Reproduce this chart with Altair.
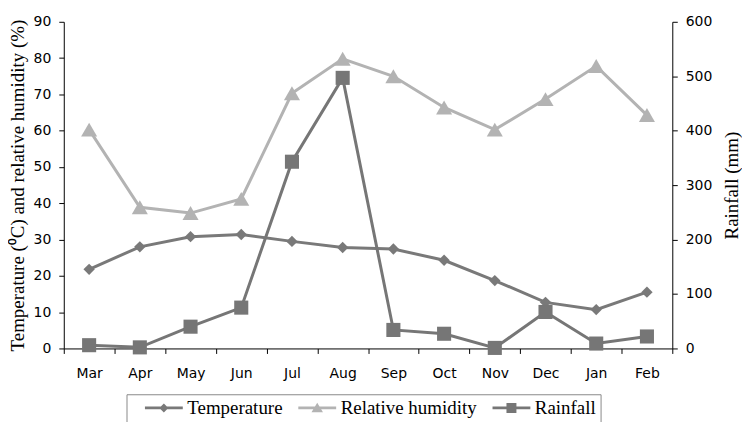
import altair as alt
import pandas as pd

months = ["Mar", "Apr", "May", "Jun", "Jul", "Aug", "Sep", "Oct", "Nov", "Dec", "Jan", "Feb"]
temperature = [21.8, 28.0, 30.8, 31.4, 29.5, 27.8, 27.4, 24.3, 18.7, 12.7, 10.7, 15.5]
humidity = [60.3, 38.9, 37.3, 41.2, 70.3, 79.8, 75.0, 66.4, 60.3, 68.7, 77.8, 64.3]
rainfall = [6, 2, 40, 75, 343, 497, 34, 27, 1, 67, 9, 22]

series_names = ["Temperature", "Relative humidity", "Rainfall"]
series_colors = ["#797979", "#b3b3b3", "#767676"]
# legend symbols (unit = 5 px): a short line with the series marker in its middle
legend_paths = [
    "M-3.8,-0.28L3.8,-0.28L3.8,0.28L-3.8,0.28Z M0,-0.9L0.9,0L0,0.9L-0.9,0Z",
    "M-3.8,-0.28L3.8,-0.28L3.8,0.28L-3.8,0.28Z M0,-1.05L1.15,0.85L-1.15,0.85Z",
    "M-3.8,-0.28L3.8,-0.28L3.8,0.28L-3.8,0.28Z M-1,-1L1,-1L1,1L-1,1Z",
]

df = pd.DataFrame({
    "month": months,
    "Temperature": temperature,
    "Relative humidity": humidity,
    "Rainfall": rainfall,
})
legend_df = pd.DataFrame({"series": series_names})

x_enc = alt.X(
    "month:N",
    sort=months,
    scale=alt.Scale(type="band", paddingInner=0, paddingOuter=0),
    axis=alt.Axis(title=None, tickBand="extent", labelPadding=13, labelAngle=0),
)

left_scale = alt.Scale(domain=[0, 90])
left_title = "Temperature (\u2070C) and relative humidity (%)"


def left_axis():
    return alt.Axis(
        values=list(range(0, 91, 10)),
        title=left_title,
        titleX=-46, titleY=164, titleBaseline="middle", titleAlign="center",
        labelPadding=8,
    )


temp_layer = alt.Chart(df).mark_line(
    color=series_colors[0], strokeWidth=3,
    point=alt.OverlayMarkDef(shape="diamond", size=130, filled=True, color=series_colors[0], opacity=1),
).encode(x=x_enc, y=alt.Y("Temperature:Q", scale=left_scale, axis=left_axis(), title=left_title))

rh_layer = alt.Chart(df).mark_line(
    color=series_colors[1], strokeWidth=3,
    point=alt.OverlayMarkDef(shape="triangle-up", size=260, filled=True, color=series_colors[1], opacity=1),
).encode(x=x_enc, y=alt.Y("Relative humidity:Q", scale=left_scale, axis=left_axis(), title=left_title))

rain_layer = alt.Chart(df).mark_line(
    color=series_colors[2], strokeWidth=3,
    point=alt.OverlayMarkDef(shape="square", size=200, filled=True, color=series_colors[2], opacity=1),
).encode(
    x=x_enc,
    y=alt.Y(
        "Rainfall:Q",
        scale=alt.Scale(domain=[0, 600]),
        axis=alt.Axis(
            orient="right", values=list(range(0, 601, 100)), title="Rainfall (mm)",
            titleX=59, titleY=164, titleAngle=270, titleBaseline="middle", titleAlign="center",
            labelPadding=8,
        ),
    ),
)

legend_layer = alt.Chart(legend_df).mark_point(filled=True, opacity=1, clip=True).encode(
    x=alt.value(-200),
    y=alt.value(-200),
    color=alt.Color(
        "series:N", sort=series_names,
        scale=alt.Scale(domain=series_names, range=series_colors),
        legend=alt.Legend(title=None),
    ),
    shape=alt.Shape(
        "series:N", sort=series_names,
        scale=alt.Scale(domain=series_names, range=legend_paths),
        legend=alt.Legend(title=None),
    ),
)

left = alt.layer(temp_layer, rh_layer, legend_layer)

chart = (
    alt.layer(left, rain_layer)
    .resolve_scale(y="independent")
    .properties(
        width=611, height=328,
        autosize=alt.AutoSizeParams(type="none"),
        padding={"left": 56, "top": 13, "right": 70, "bottom": 73},
        background="white",
    )
    .configure_view(stroke=None)
    .configure_axis(
        grid=False, domainColor="black", tickColor="black", domainWidth=1, tickWidth=1, tickSize=5,
        labelFont="DejaVu Sans", labelFontSize=14, labelColor="black",
        titleFont="Liberation Serif", titleFontSize=19, titleFontWeight="normal", titleColor="black",
    )
    .configure_legend(
        orient="none", legendX=63, legendY=374, direction="horizontal",
        strokeColor="#888888", fillColor="white", padding=4,
        symbolSize=100, symbolStrokeWidth=0, symbolOpacity=1, symbolOffset=24,
        labelFont="Liberation Serif", labelFontSize=19, labelColor="black", labelOffset=14,
        columnPadding=1,
    )
)

chart.save("out.html", embed_options={"renderer": "svg", "actions": False})
